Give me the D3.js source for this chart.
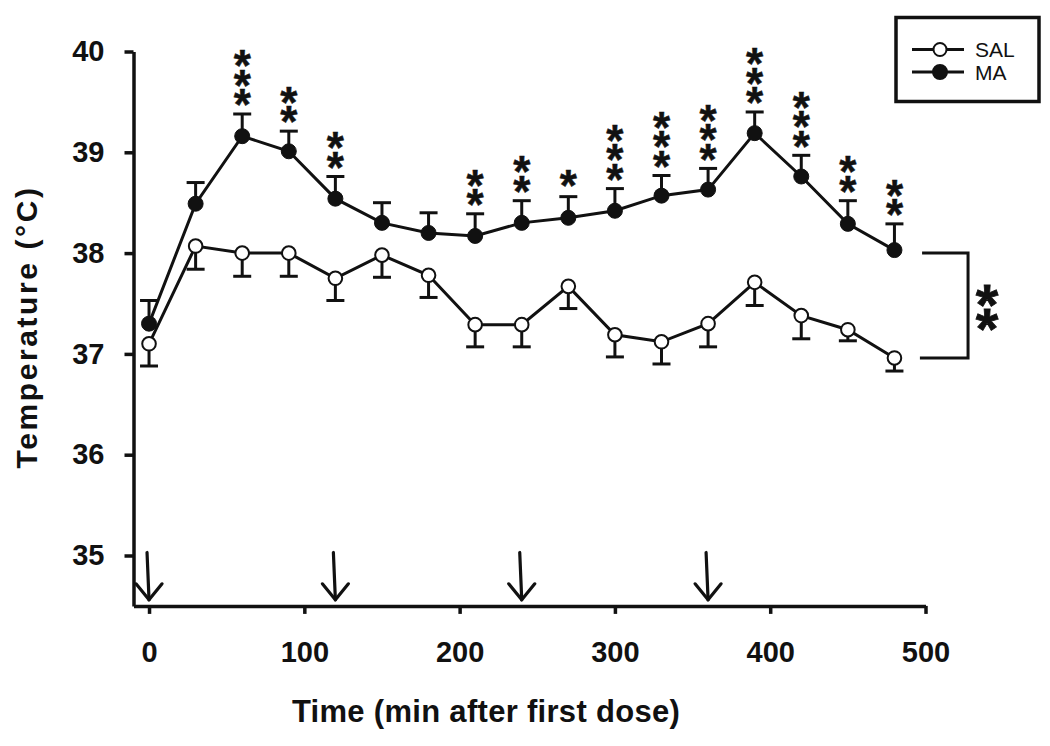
<!DOCTYPE html>
<html>
<head>
<meta charset="utf-8">
<script src="https://cdn.jsdelivr.net/npm/d3@7/dist/d3.min.js"></script>
<style>
  html, body { margin: 0; padding: 0; background: #fff; }
  svg { display: block; }
  text { font-family: "Liberation Sans", Arial, Helvetica, sans-serif; fill: #111; }
  .vstack { writing-mode: vertical-rl; text-orientation: upright; }
</style>
</head>
<body>
<svg id="chart" width="1050" height="746"></svg>
<script>
// ---- data ----
const times = [0, 30, 60, 90, 120, 150, 180, 210, 240, 270, 300, 330, 360, 390, 420, 450, 480];
const salMean = [37.10, 38.07, 38.00, 38.00, 37.75, 37.98, 37.78, 37.29, 37.29, 37.67, 37.19, 37.12, 37.30, 37.71, 37.38, 37.24, 36.96];
const salSem  = [0.22, 0.23, 0.23, 0.23, 0.22, 0.22, 0.22, 0.22, 0.22, 0.22, 0.22, 0.22, 0.23, 0.23, 0.23, 0.11, 0.13];
const maMean  = [37.30, 38.49, 39.16, 39.01, 38.54, 38.30, 38.20, 38.17, 38.30, 38.35, 38.42, 38.57, 38.63, 39.19, 38.76, 38.29, 38.03];
const maSem   = [0.23, 0.21, 0.22, 0.20, 0.22, 0.20, 0.20, 0.22, 0.22, 0.21, 0.22, 0.20, 0.21, 0.21, 0.21, 0.23, 0.26];
const maStars = [0, 0, 3, 2, 2, 0, 0, 2, 2, 1, 3, 3, 3, 3, 3, 2, 2];
const doseTimes = [0, 120, 240, 360];
const xTicks = [0, 100, 200, 300, 400, 500];
const yTicks = [35, 36, 37, 38, 39, 40];
const seriesNames = ["SAL", "MA"];
const bracketValues = [38.0, 36.96];
const bracketLabel = "**";
const xTitle = "Time (min after first dose)";
const yTitle = "Temperature (°C)";

// ---- scales ----
const svg = d3.select("#chart");
const x = d3.scaleLinear().domain([-10, 500]).range([133.5, 925.5]);
const y = d3.scaleLinear().domain([34.5, 40]).range([605.9, 51.5]);

// ---- axes ----
const yAxis = d3.axisLeft(y).tickValues(yTicks).tickSize(9).tickSizeOuter(0).tickPadding(20).tickFormat(d3.format("d"));
const xAxis = d3.axisBottom(x).tickValues(xTicks).tickSize(8).tickSizeOuter(0).tickPadding(28).tickFormat(d3.format("d"));

const gx = svg.append("g").attr("transform", `translate(0,${y(34.5)})`).call(xAxis);
const gy = svg.append("g").attr("transform", `translate(${x(-10)},0)`).call(yAxis);
[gx, gy].forEach(g => {
  g.select(".domain").attr("stroke", "#111").attr("stroke-width", 3.5);
  g.selectAll(".tick line").attr("stroke", "#111").attr("stroke-width", 3.5);
  g.selectAll(".tick text").attr("font-size", 29).attr("font-weight", "bold")
    .attr("font-family", '"Liberation Sans", Arial, sans-serif').attr("fill", "#111");
});

// axis titles
svg.append("text").attr("x", 486).attr("y", 722).attr("text-anchor", "middle")
  .attr("font-size", 31).attr("font-weight", "bold").attr("letter-spacing", 0.3).text(xTitle);
svg.append("text").attr("transform", "translate(37,327) rotate(-90)").attr("text-anchor", "middle")
  .attr("font-size", 30).attr("font-weight", "bold").attr("letter-spacing", 2.6).text(yTitle);

// ---- dose arrows ----
const arrows = svg.append("g").attr("stroke", "#111").attr("stroke-width", 3.2).attr("fill", "none")
  .attr("stroke-linecap", "round").attr("stroke-linejoin", "round");
doseTimes.forEach(t => {
  const tx = x(t), ty = y(34.56), top = y(35.03);
  arrows.append("path").attr("d", `M${tx - 2},${top} L${tx},${ty}`);
  arrows.append("path").attr("d", `M${tx - 13},${ty - 16} L${tx},${ty} L${tx + 13},${ty - 16}`);
});

// ---- error bars ----
const eb = svg.append("g").attr("stroke", "#111").attr("stroke-width", 3);
times.forEach((t, i) => {
  const cx = x(t);
  const mt = y(maMean[i] + maSem[i]);
  eb.append("line").attr("x1", cx).attr("x2", cx).attr("y1", y(maMean[i])).attr("y2", mt);
  eb.append("line").attr("x1", cx - 9).attr("x2", cx + 9).attr("y1", mt).attr("y2", mt);
  const sb = y(salMean[i] - salSem[i]);
  eb.append("line").attr("x1", cx).attr("x2", cx).attr("y1", y(salMean[i])).attr("y2", sb);
  eb.append("line").attr("x1", cx - 9).attr("x2", cx + 9).attr("y1", sb).attr("y2", sb);
});

// ---- lines ----
const line = d3.line().x(d => x(d[0])).y(d => y(d[1]));
svg.append("path").datum(times.map((t, i) => [t, salMean[i]]))
  .attr("d", line).attr("fill", "none").attr("stroke", "#111").attr("stroke-width", 3);
svg.append("path").datum(times.map((t, i) => [t, maMean[i]]))
  .attr("d", line).attr("fill", "none").attr("stroke", "#111").attr("stroke-width", 3);

// ---- markers ----
svg.append("g").selectAll("circle").data(times).join("circle")
  .attr("cx", t => x(t)).attr("cy", (t, i) => y(salMean[i])).attr("r", 6.8)
  .attr("fill", "#fff").attr("stroke", "#111").attr("stroke-width", 2);
svg.append("g").selectAll("circle").data(times).join("circle")
  .attr("cx", t => x(t)).attr("cy", (t, i) => y(maMean[i])).attr("r", 7.5)
  .attr("fill", "#111").attr("stroke", "#111").attr("stroke-width", 1);

// ---- vertical star stacks: one text string per stack ----
function starStack(g, cx, bottomCenter, n, fs, step, sw) {
  const t = g.append("text").attr("class", "vstack").attr("x", cx).attr("y", 0)
    .attr("font-size", fs).attr("font-weight", "bold").attr("stroke", "#111").attr("stroke-width", sw)
    .text("*".repeat(n));
  const node = t.node();
  let adv = fs;
  if (n > 1) {
    const p0 = node.getStartPositionOfChar(0), p1 = node.getStartPositionOfChar(1);
    adv = Math.abs(p1.y - p0.y);
  }
  t.attr("letter-spacing", step - adv);
  const ext = node.getExtentOfChar(n - 1);
  const bb = node.getBBox();
  const inkCentre = ext.y + ext.height * 0.36 + 0.22 * fs;
  const dx = cx - (bb.x + bb.width / 2);
  t.attr("transform", `translate(${dx},${bottomCenter - inkCentre})`);
  return t;
}

const starFs = 44;
const starG = svg.append("g");
times.forEach((t, i) => {
  if (!maStars[i]) return;
  starStack(starG, x(t), y(maMean[i] + maSem[i]) - 17, maStars[i], starFs, 19.5, 0.5);
});

// ---- bracket ----
const bx = x(527.4);
svg.append("path")
  .attr("d", `M${x(497.8)},${y(bracketValues[0])} L${bx},${y(bracketValues[0])} L${bx},${y(bracketValues[1])} L${x(496.4)},${y(bracketValues[1])}`)
  .attr("fill", "none").attr("stroke", "#111").attr("stroke-width", 3);
const bMid = (y(bracketValues[0]) + y(bracketValues[1])) / 2;
starStack(svg, x(539.6), bMid + 11.5, bracketLabel.length, 58, 23.5, 0.8);

// ---- legend ----
const lg = svg.append("g");
lg.append("rect").attr("x", 896).attr("y", 17.5).attr("width", 143).attr("height", 84)
  .attr("fill", "#fff").attr("stroke", "#111").attr("stroke-width", 3.5);
seriesNames.forEach((name, k) => {
  const ly = 49.5 + k * 22.5;
  lg.append("line").attr("x1", 912).attr("x2", 964).attr("y1", ly).attr("y2", ly)
    .attr("stroke", "#111").attr("stroke-width", 2.8);
  lg.append("circle").attr("cx", 940).attr("cy", ly).attr("r", k === 0 ? 6.5 : 7)
    .attr("fill", k === 0 ? "#fff" : "#111").attr("stroke", "#111").attr("stroke-width", 2);
  lg.append("text").attr("x", 975).attr("y", ly + 7.5).attr("font-size", 21).text(name);
});
</script>
</body>
</html>
